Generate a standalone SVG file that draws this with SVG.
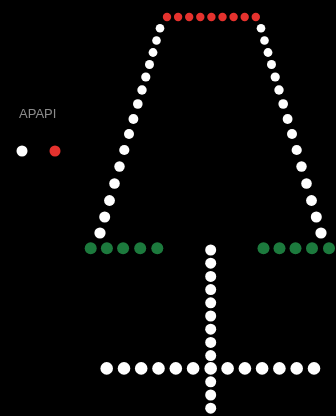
<svg xmlns="http://www.w3.org/2000/svg" width="336" height="416" viewBox="0 0 336 416">
<defs>
<style>
.w{fill:#ffffff}
.r{fill:#e5322d}
.g{fill:#1f7a3e}
.lbl{font-family:"Liberation Sans",Arial,sans-serif;font-size:13px;fill:#8c8c8c}
</style>
<filter id="soft" x="-20%" y="-20%" width="140%" height="140%"><feGaussianBlur stdDeviation="0.7"/></filter>
</defs>
<rect width="336" height="416" fill="#000"/>
<g id="legend">
<text class="lbl" x="19" y="118" filter="url(#soft)">APAPI</text>
<circle class="w" cx="22" cy="151" r="5.5" filter="url(#soft)"/>
<circle class="r" cx="55" cy="151" r="5.5" filter="url(#soft)"/>
</g>
<g id="top-bar" filter="url(#soft)">
<circle class="r" cx="167" cy="17" r="4.2"/>
<circle class="r" cx="178.1" cy="17" r="4.2"/>
<circle class="r" cx="189.2" cy="17" r="4.2"/>
<circle class="r" cx="200.3" cy="17" r="4.2"/>
<circle class="r" cx="211.4" cy="17" r="4.2"/>
<circle class="r" cx="222.5" cy="17" r="4.2"/>
<circle class="r" cx="233.6" cy="17" r="4.2"/>
<circle class="r" cx="244.7" cy="17" r="4.2"/>
<circle class="r" cx="255.8" cy="17" r="4.2"/>
</g>
<g id="left-line" filter="url(#soft)">
<circle class="w" cx="160" cy="28.3" r="4.3"/>
<circle class="w" cx="156.5" cy="40.5" r="4.3"/>
<circle class="w" cx="153" cy="52.5" r="4.4"/>
<circle class="w" cx="149.5" cy="64.5" r="4.5"/>
<circle class="w" cx="145.8" cy="77" r="4.6"/>
<circle class="w" cx="142" cy="90" r="4.7"/>
<circle class="w" cx="137.8" cy="104" r="4.8"/>
<circle class="w" cx="133.4" cy="119" r="4.9"/>
<circle class="w" cx="129" cy="134" r="5"/>
<circle class="w" cx="124.3" cy="150" r="5.1"/>
<circle class="w" cx="119.5" cy="166.5" r="5.2"/>
<circle class="w" cx="114.5" cy="183.5" r="5.3"/>
<circle class="w" cx="109.5" cy="200.5" r="5.4"/>
<circle class="w" cx="104.7" cy="217" r="5.5"/>
<circle class="w" cx="100" cy="233" r="5.6"/>
</g>
<g id="right-line" filter="url(#soft)">
<circle class="w" cx="261" cy="28.3" r="4.3"/>
<circle class="w" cx="264.5" cy="40.5" r="4.3"/>
<circle class="w" cx="268" cy="52.5" r="4.4"/>
<circle class="w" cx="271.5" cy="64.5" r="4.5"/>
<circle class="w" cx="275.2" cy="77" r="4.6"/>
<circle class="w" cx="279" cy="90" r="4.7"/>
<circle class="w" cx="283.2" cy="104" r="4.8"/>
<circle class="w" cx="287.6" cy="119" r="4.9"/>
<circle class="w" cx="292" cy="134" r="5"/>
<circle class="w" cx="296.7" cy="150" r="5.1"/>
<circle class="w" cx="301.5" cy="166.5" r="5.2"/>
<circle class="w" cx="306.5" cy="183.5" r="5.3"/>
<circle class="w" cx="311.5" cy="200.5" r="5.4"/>
<circle class="w" cx="316.3" cy="217" r="5.5"/>
<circle class="w" cx="321" cy="233" r="5.6"/>
</g>
<g id="left-green" filter="url(#soft)">
<circle class="g" cx="90.7" cy="248.3" r="6"/>
<circle class="g" cx="106.9" cy="248.3" r="6"/>
<circle class="g" cx="123.1" cy="248.3" r="6"/>
<circle class="g" cx="140.2" cy="248.3" r="6"/>
<circle class="g" cx="157.3" cy="248.3" r="6"/>
</g>
<g id="right-green" filter="url(#soft)">
<circle class="g" cx="263.5" cy="248.3" r="6"/>
<circle class="g" cx="279.5" cy="248.3" r="6"/>
<circle class="g" cx="295.5" cy="248.3" r="6"/>
<circle class="g" cx="312" cy="248.3" r="6"/>
<circle class="g" cx="329" cy="248.3" r="6"/>
</g>
<g id="stem" filter="url(#soft)">
<circle class="w" cx="210.7" cy="250" r="5.5"/>
<circle class="w" cx="210.7" cy="263.2" r="5.5"/>
<circle class="w" cx="210.7" cy="276.4" r="5.5"/>
<circle class="w" cx="210.7" cy="289.6" r="5.5"/>
<circle class="w" cx="210.7" cy="302.8" r="5.5"/>
<circle class="w" cx="210.7" cy="316" r="5.5"/>
<circle class="w" cx="210.7" cy="329.2" r="5.5"/>
<circle class="w" cx="210.7" cy="342.4" r="5.5"/>
<circle class="w" cx="210.7" cy="355.6" r="5.5"/>
<circle class="w" cx="210.7" cy="381.8" r="5.5"/>
<circle class="w" cx="210.7" cy="395" r="5.5"/>
<circle class="w" cx="210.7" cy="408.2" r="5.5"/>
</g>
<g id="crossbar" filter="url(#soft)">
<circle class="w" cx="106.7" cy="368.4" r="6.3"/>
<circle class="w" cx="124" cy="368.4" r="6.3"/>
<circle class="w" cx="141.2" cy="368.4" r="6.3"/>
<circle class="w" cx="158.5" cy="368.4" r="6.3"/>
<circle class="w" cx="175.8" cy="368.4" r="6.3"/>
<circle class="w" cx="193.1" cy="368.4" r="6.3"/>
<circle class="w" cx="210.7" cy="368.4" r="6.3"/>
<circle class="w" cx="227.6" cy="368.4" r="6.3"/>
<circle class="w" cx="244.9" cy="368.4" r="6.3"/>
<circle class="w" cx="262.1" cy="368.4" r="6.3"/>
<circle class="w" cx="279.4" cy="368.4" r="6.3"/>
<circle class="w" cx="296.7" cy="368.4" r="6.3"/>
<circle class="w" cx="314" cy="368.4" r="6.3"/>
</g>
</svg>
